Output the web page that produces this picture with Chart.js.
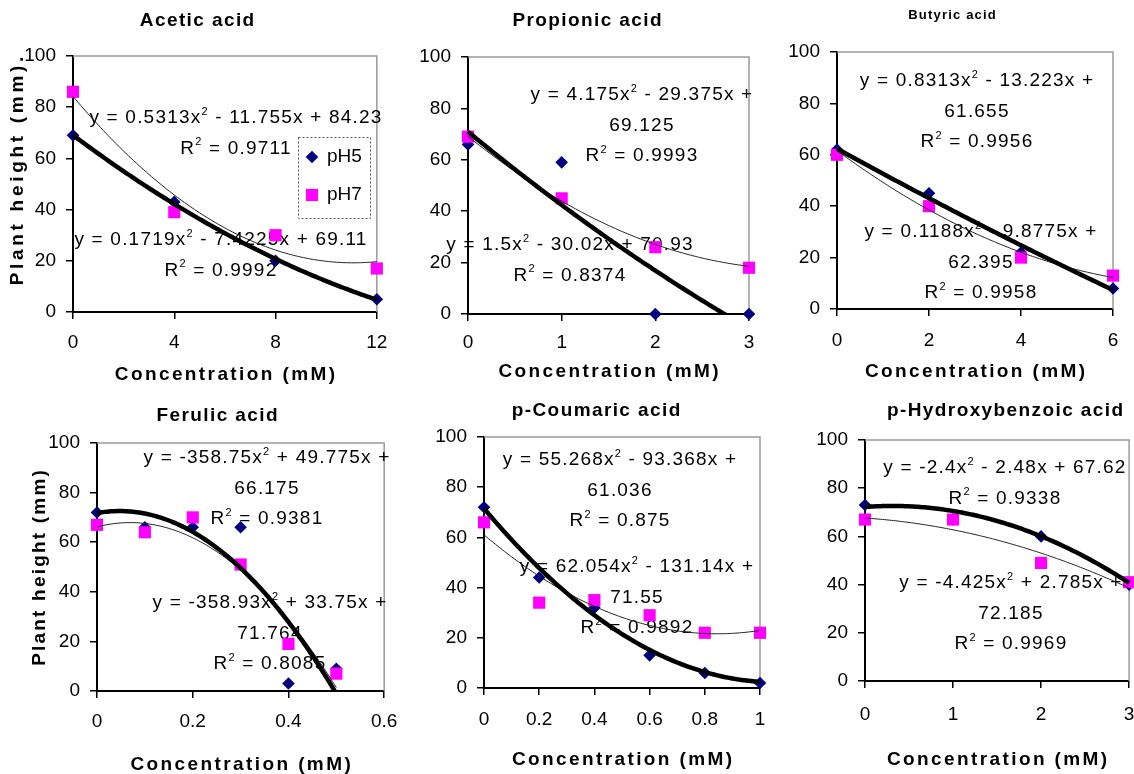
<!DOCTYPE html>
<html>
<head>
<meta charset="utf-8">
<script src="https://cdn.jsdelivr.net/npm/chart.js@4.4.1/dist/chart.umd.min.js"></script>
<style>
  html, body { margin: 0; padding: 0; background: #fff; overflow: hidden; }
  body { width: 1134px; height: 774px; position: relative; }
  canvas { position: absolute; }
</style>
</head>
<body>
<script>
const FONT = '"Liberation Sans", Arial, sans-serif';

// ---- values ----
const acidNames = ['Acetic acid', 'Propionic acid', 'Butyric acid', 'Ferulic acid', 'p-Coumaric acid', 'p-Hydroxybenzoic acid'];
const seriesNames = ['pH5', 'pH7'];
const yTicks = [0, 20, 40, 60, 80, 100];

const aceticConc = [0, 4, 8, 12];
const aceticPH5 = [69, 43, 20, 5];
const aceticPH7 = [86, 39, 30, 17];
const aceticTicks = [0, 4, 8, 12];

const propionicConc = [0, 1, 2, 3];
const propionicPH5 = [66, 59, 0, 0];
const propionicPH7 = [69, 45, 26, 18];
const propionicTicks = [0, 1, 2, 3];

const butyricConc = [0, 2, 4, 6];
const butyricPH5 = [62, 45, 22, 8];
const butyricPH7 = [60, 40, 20, 13];
const butyricTicks = [0, 2, 4, 6];

const ferulicConc = [0, 0.1, 0.2, 0.3, 0.4, 0.5];
const ferulicPH5 = [72, 66, 66, 66, 3, 9];
const ferulicPH7 = [67, 64, 70, 51, 19, 7];
const ferulicTicks = [0, 0.2, 0.4, 0.6];

const coumaricConc = [0, 0.2, 0.4, 0.6, 0.8, 1];
const coumaricPH5 = [72, 44, 32, 13, 6, 2];
const coumaricPH7 = [66, 34, 35, 29, 22, 22];
const coumaricTicks = [0, 0.2, 0.4, 0.6, 0.8, 1];

const hydroxyConc = [0, 1, 2, 3];
const hydroxyPH5 = [73, 67, 60, 40];
const hydroxyPH7 = [67, 67, 49, 41];
const hydroxyTicks = [0, 1, 2, 3];

// polynomial trendlines as printed on the chart: [a, b, c] for y = ax² + bx + c
const aceticFit5 = [0.1719, -7.4225, 69.11], aceticR5 = 0.9992;
const aceticFit7 = [0.5313, -11.755, 84.23], aceticR7 = 0.9711;
const propionicFit5 = [1.5, -30.02, 70.93], propionicR5 = 0.8374;
const propionicFit7 = [4.175, -29.375, 69.125], propionicR7 = 0.9993;
const butyricFit5 = [0.1188, -9.8775, 62.395], butyricR5 = 0.9958;
const butyricFit7 = [0.8313, -13.223, 61.655], butyricR7 = 0.9956;
const ferulicFit5 = [-358.93, 33.75, 71.764], ferulicR5 = 0.8085;
const ferulicFit7 = [-358.75, 49.775, 66.175], ferulicR7 = 0.9381;
const coumaricFit5 = [62.054, -131.14, 71.55], coumaricR5 = 0.9892;
const coumaricFit7 = [55.268, -93.368, 61.036], coumaricR7 = 0.875;
const hydroxyFit5 = [-4.425, 2.785, 72.185], hydroxyR5 = 0.9969;
const hydroxyFit7 = [-2.4, -2.48, 67.62], hydroxyR7 = 0.9338;

const panelData = [
  { conc: aceticConc, ph5: aceticPH5, ph7: aceticPH7, ticks: aceticTicks, fit5: aceticFit5, fit7: aceticFit7, r5: aceticR5, r7: aceticR7 },
  { conc: propionicConc, ph5: propionicPH5, ph7: propionicPH7, ticks: propionicTicks, fit5: propionicFit5, fit7: propionicFit7, r5: propionicR5, r7: propionicR7 },
  { conc: butyricConc, ph5: butyricPH5, ph7: butyricPH7, ticks: butyricTicks, fit5: butyricFit5, fit7: butyricFit7, r5: butyricR5, r7: butyricR7 },
  { conc: ferulicConc, ph5: ferulicPH5, ph7: ferulicPH7, ticks: ferulicTicks, fit5: ferulicFit5, fit7: ferulicFit7, r5: ferulicR5, r7: ferulicR7 },
  { conc: coumaricConc, ph5: coumaricPH5, ph7: coumaricPH7, ticks: coumaricTicks, fit5: coumaricFit5, fit7: coumaricFit7, r5: coumaricR5, r7: coumaricR7 },
  { conc: hydroxyConc, ph5: hydroxyPH5, ph7: hydroxyPH7, ticks: hydroxyTicks, fit5: hydroxyFit5, fit7: hydroxyFit7, r5: hydroxyR5, r7: hydroxyR7 }
];

// ---- page layout (page pixels); eq/legend offsets are relative to the plot area ----
const layout = [
  { box: [0, 0, 400, 390], plot: [73, 56, 378, 312], xPad: 12.6,
    title: [197, 21, 19], xTitleY: 375, yTitle: { text: 'Plant height (mm).', x: 18, y: 171, spacing: 3.7 },
    eq7: [163, 62, false], eq5: [148, 184, false], legend: [225, 81, 72, 81] },
  { box: [400, 0, 370, 390], plot: [468, 57, 749, 314], xPad: 10.6,
    title: [587, 21, 19], xTitleY: 372, eq7: [174, 38, true], eq5: [102, 188, false] },
  { box: [770, 0, 380, 390], plot: [837, 52, 1113, 309], xPad: 13.3,
    title: [952, 15, 13], xTitleY: 372, eq7: [140, 29, true], eq5: [144, 180, true] },
  { box: [0, 390, 410, 384], plot: [97, 443, 392, 691], xPad: 12.6,
    title: [217, 416, 19], xTitleY: 765, yTitle: { text: 'Plant height (mm)', x: 40, y: 568, spacing: 2.2 },
    eq7: [170, 15, true], eq5: [173, 160, true] },
  { box: [410, 390, 372, 384], plot: [484, 437, 760, 688], xPad: 13.6,
    title: [596, 411, 19], xTitleY: 760, eq7: [136, 23, true], eq5: [153, 130, true] },
  { box: [810, 390, 340, 384], plot: [865, 440, 1130, 681], xPad: 15.6,
    title: [1005, 411, 19], xTitleY: 760, eq7: [140, 28, false], eq5: [146, 143, true] }
];

const LINE_GAP = 30.5;

function trendCurve(fit, conc) {
  const x0 = Math.min(...conc), x1 = Math.max(...conc);
  const pts = [];
  for (let k = 0; k <= 120; k++) {
    const x = x0 + (x1 - x0) * k / 120;
    pts.push({ x: x, y: fit[0] * x * x + fit[1] * x + fit[2] });
  }
  return pts;
}

function eqLines(fit, r2, wrap) {
  const [a, b, c] = fit;
  const head = 'y = ' + a + 'x²' + (b < 0 ? ' - ' : ' + ') + Math.abs(b) + 'x ' + (c < 0 ? '-' : '+');
  const lines = wrap ? [head, String(Math.abs(c))] : [head + ' ' + Math.abs(c)];
  lines.push('R² = ' + r2);
  return lines;
}

// text with superscript "2"
function drawRich(ctx, str, cx, cy, size, spacing) {
  const parts = str.split('²');
  const sup = Math.round(size * 0.6);
  ctx.letterSpacing = spacing + 'px';
  let total = 0;
  parts.forEach((t, i) => {
    ctx.font = size + 'px ' + FONT;
    total += ctx.measureText(t).width;
    if (i < parts.length - 1) { ctx.font = sup + 'px ' + FONT; total += ctx.measureText('2').width; }
  });
  let x = cx - total / 2;
  ctx.textAlign = 'left';
  ctx.textBaseline = 'middle';
  parts.forEach((t, i) => {
    ctx.font = size + 'px ' + FONT;
    ctx.fillText(t, x, cy);
    x += ctx.measureText(t).width;
    if (i < parts.length - 1) {
      ctx.font = sup + 'px ' + FONT;
      ctx.fillText('2', x, cy - size * 0.33);
      x += ctx.measureText('2').width;
    }
  });
}

function boldText(ctx, str, x, y, size, spacing) {
  ctx.font = 'bold ' + size + 'px ' + FONT;
  ctx.letterSpacing = spacing + 'px';
  ctx.textAlign = 'center';
  ctx.textBaseline = 'middle';
  ctx.fillText(str, x + spacing / 2, y);
}

function makeTextPlugin(i) {
  const lay = layout[i], d = panelData[i];
  const ox = lay.box[0], oy = lay.box[1];
  return {
    id: 'panelText',
    beforeDatasetsDraw(chart) {
      const { ctx, chartArea: a } = chart;
      ctx.save();
      // plot area frame (top and right)
      ctx.strokeStyle = '#9a9a9a';
      ctx.lineWidth = 1.5;
      ctx.beginPath();
      ctx.moveTo(a.left, a.top);
      ctx.lineTo(a.right, a.top);
      ctx.lineTo(a.right, a.bottom);
      ctx.stroke();
      // trendline equations
      ctx.fillStyle = '#000';
      [[lay.eq7, d.fit7, d.r7], [lay.eq5, d.fit5, d.r5]].forEach(([pos, fit, r2]) => {
        eqLines(fit, r2, pos[2]).forEach((line, k) => {
          drawRich(ctx, line, a.left + pos[0], a.top + pos[1] + k * LINE_GAP, 19, 1.2);
        });
      });
      ctx.restore();
    },
    afterDraw(chart) {
      const { ctx, chartArea: a } = chart;
      ctx.save();
      ctx.fillStyle = '#000';
      const t = lay.title;
      boldText(ctx, acidNames[i], t[0] - ox, t[1] - oy, t[2], t[2] < 15 ? 1.2 : 1.4);
      boldText(ctx, 'Concentration (mM)', (a.left + a.right) / 2, lay.xTitleY - oy, 19, 2.4);
      if (lay.yTitle) {
        ctx.translate(lay.yTitle.x - ox, lay.yTitle.y - oy);
        ctx.rotate(-Math.PI / 2);
        boldText(ctx, lay.yTitle.text, 0, 0, 19, lay.yTitle.spacing);
        ctx.setTransform(1, 0, 0, 1, 0, 0);
      }
      if (lay.legend) {
        const [lx, ly, lw, lh] = lay.legend;
        const bx = a.left + lx, by = a.top + ly;
        ctx.strokeStyle = '#555';
        ctx.lineWidth = 1;
        ctx.setLineDash([2, 2]);
        ctx.strokeRect(bx + 0.5, by + 0.5, lw, lh);
        ctx.setLineDash([]);
        ctx.letterSpacing = '0px';
        ctx.font = '19px ' + FONT;
        ctx.textAlign = 'left';
        ctx.textBaseline = 'middle';
        seriesNames.forEach((name, k) => {
          const ds = chart.data.datasets.find(s => s.label === name);
          const cy = by + 20 + k * 38;
          ctx.fillStyle = ds.pointBackgroundColor;
          Chart.helpers.drawPoint(ctx, { pointStyle: ds.pointStyle, radius: ds.pointRadius, rotation: 0, borderWidth: 0 }, bx + 14, cy);
          ctx.fillStyle = '#000';
          ctx.fillText(name, bx + 29, cy);
        });
      }
      ctx.restore();
    }
  };
}

function axisOpts(ticksArr, min, max, pad, fitFn) {
  return {
    type: 'linear',
    min: min,
    max: max,
    afterBuildTicks: scale => { scale.ticks = ticksArr.map(v => ({ value: v })); },
    afterFit: fitFn,
    grid: { drawOnChartArea: false, drawTicks: true, tickLength: 7, color: '#000', lineWidth: 1.5 },
    border: { display: true, color: '#000', width: 2 },
    ticks: { color: '#000', font: { family: FONT, size: 19 }, padding: pad, maxRotation: 0, autoSkip: false, callback: v => String(v) }
  };
}

layout.forEach((lay, i) => {
  const d = panelData[i];
  const [L, T, W, H] = lay.box;
  const [pl, pt, pr, pb] = lay.plot;
  const canvas = document.createElement('canvas');
  canvas.width = W;
  canvas.height = H;
  canvas.style.left = L + 'px';
  canvas.style.top = T + 'px';
  document.body.appendChild(canvas);

  const yWidth = pl - L, xHeight = T + H - pb;
  const lineClip = { left: 10, top: 10, right: 10, bottom: 0 };

  new Chart(canvas.getContext('2d'), {
    type: 'scatter',
    data: {
      datasets: [
        { label: 'pH5 trend', data: trendCurve(d.fit5, d.conc), showLine: true, borderColor: '#000', borderWidth: 4.5,
          pointRadius: 0, order: 0, clip: lineClip },
        { label: 'pH7 trend', data: trendCurve(d.fit7, d.conc), showLine: true, borderColor: '#222', borderWidth: 1,
          pointRadius: 0, order: 1, clip: lineClip },
        { label: seriesNames[1], data: d.conc.map((x, k) => ({ x: x, y: d.ph7[k] })), pointStyle: 'rect', pointRadius: 8.6,
          pointBackgroundColor: '#FF00FF', pointBorderWidth: 0, order: 2, clip: false },
        { label: seriesNames[0], data: d.conc.map((x, k) => ({ x: x, y: d.ph5[k] })), pointStyle: 'rectRot', pointRadius: 6.3,
          pointBackgroundColor: '#000080', pointBorderWidth: 0, order: 3, clip: false }
      ]
    },
    options: {
      responsive: false,
      animation: false,
      devicePixelRatio: 1,
      events: [],
      layout: { padding: { top: pt - T, left: 0, right: L + W - pr, bottom: 0 } },
      plugins: { legend: { display: false }, tooltip: { enabled: false }, title: { display: false } },
      scales: {
        x: axisOpts(d.ticks, d.ticks[0], d.ticks[d.ticks.length - 1], lay.xPad, s => { s.height = xHeight; }),
        y: axisOpts(yTicks, 0, 100, 10, s => { s.width = yWidth; })
      }
    },
    plugins: [makeTextPlugin(i)]
  });
});
</script>
</body>
</html>
